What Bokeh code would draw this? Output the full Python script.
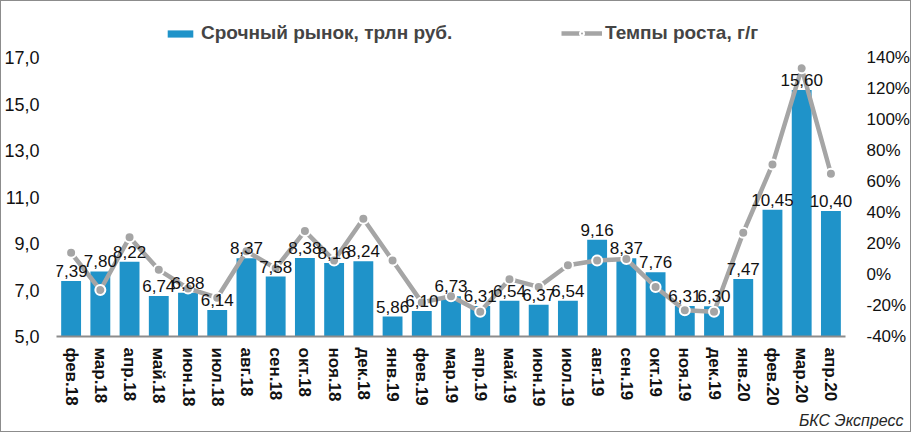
from bokeh.plotting import figure
from bokeh.models import (Range1d, LinearAxis, FixedTicker, Legend,
                          LegendItem, Title, ColumnDataSource)
from bokeh.core.properties import value
from bokeh.embed import file_html
from bokeh.resources import INLINE

categories = ["фев.18", "мар.18", "апр.18", "май.18", "июн.18", "июл.18", "авг.18",
              "сен.18", "окт.18", "ноя.18", "дек.18", "янв.19", "фев.19", "мар.19",
              "апр.19", "май.19", "июн.19", "июл.19", "авг.19", "сен.19", "окт.19",
              "ноя.19", "дек.19", "янв.20", "фев.20", "мар.20", "апр.20"]
volume = [7.39, 7.80, 8.22, 6.74, 6.88, 6.14, 8.37, 7.58, 8.38, 8.16, 8.24, 5.86, 6.10,
          6.73, 6.31, 6.54, 6.37, 6.54, 9.16, 8.37, 7.76, 6.31, 6.30, 7.47, 10.45, 15.60,
          10.40]
growth = [14, -10, 24, 3, -9, -15, 15, 4, 28, 9, 36, 9, -18, -14, -24, -3, -8, 6, 9, 10,
          -8, -23, -24, 27, 71, 133, 65]
left_ticks = [5, 7, 9, 11, 13, 15, 17]
left_tick_labels = ["5,0", "7,0", "9,0", "11,0", "13,0", "15,0", "17,0"]
right_ticks = [-40, -20, 0, 20, 40, 60, 80, 100, 120, 140]
right_tick_labels = ["-40%", "-20%", "0%", "20%", "40%", "60%", "80%", "100%", "120%", "140%"]
bar_label = "Срочный рынок, трлн руб."
line_label = "Темпы роста, г/г"
source_note = "БКС Экспресс"

FONT = "Liberation Sans"
BAR_COLOR = "#1F93C9"
LINE_COLOR = "#A5A5A5"

# ---- layout constants (pixels) ----
W, H = 911, 432
AXIS_PX = 279            # height of the 5..17 / -40..140 span
EXTRA = 40               # frame extends above the axis span (legend row)
SLOT_PX = 29.3           # width of one category slot
EXTRA_R = 12             # frame extends right of the last slot (room for labels)
left_lo, left_hi = 5, 17
right_lo, right_hi = -40, 140
left_end = left_lo + (left_hi - left_lo) * (AXIS_PX + EXTRA) / AXIS_PX
right_end = right_lo + (right_hi - right_lo) * (AXIS_PX + EXTRA) / AXIS_PX
n = len(categories)
x_lo, x_hi = -0.5, n - 0.5
B_LEFT, B_RIGHT, B_TOP, B_BOTTOM = 53, 55, 56 - EXTRA, 97

xs = list(range(n))
src = ColumnDataSource(dict(
    x=xs,
    vol=volume,
    gr=growth,
    lbl=[f"{v:.2f}".replace(".", ",") for v in volume],
))

p = figure(x_range=Range1d(x_lo, x_hi + EXTRA_R / SLOT_PX),
           y_range=Range1d(left_lo, left_end), width=W, height=H,
           output_backend="svg", toolbar_location=None,
           min_border_left=B_LEFT, min_border_right=B_RIGHT, min_border_top=B_TOP,
           min_border_bottom=B_BOTTOM)
p.extra_y_ranges = {"pct": Range1d(right_lo, right_end)}
p.outline_line_color = None
p.xgrid.visible = False
p.ygrid.visible = False
p.styles = {"border": "1px solid #8C8C8C"}

ax = p.yaxis[0]
ax.ticker = FixedTicker(ticks=left_ticks)
ax.major_label_overrides = dict(zip(left_ticks, left_tick_labels))
ax.axis_line_color = None
ax.major_tick_line_color = None
ax.minor_tick_line_color = None
ax.major_tick_out = 0
ax.major_tick_in = 0
ax.minor_tick_out = 0
ax.major_label_text_font = FONT
ax.major_label_text_font_size = "18px"
ax.major_label_text_color = "#111111"
ax.major_label_standoff = 17

ra = LinearAxis(y_range_name="pct", ticker=FixedTicker(ticks=right_ticks))
ra.major_label_overrides = dict(zip(right_ticks, right_tick_labels))
ra.axis_line_color = None
ra.major_tick_line_color = None
ra.minor_tick_line_color = None
ra.major_tick_out = 0
ra.major_tick_in = 0
ra.minor_tick_out = 0
ra.major_label_text_font = FONT
ra.major_label_text_font_size = "17px"
ra.major_label_text_color = "#111111"
ra.major_label_standoff = 9
p.add_layout(ra, "right")

xa = p.xaxis[0]
xa.ticker = FixedTicker(ticks=xs)
xa.major_label_overrides = dict(zip(xs, categories))
xa.bounds = (x_lo, x_hi)
xa.major_label_orientation = "vertical"
xa.major_label_text_font = FONT
xa.major_label_text_font_style = "bold"
xa.major_label_text_font_size = "17px"
xa.major_label_text_color = "#111111"
xa.major_label_standoff = 11
xa.axis_line_color = "#8C8C8C"
xa.axis_line_width = 2
xa.major_tick_line_color = None
xa.minor_tick_line_color = None
xa.major_tick_out = 0
xa.major_tick_in = 0
xa.minor_tick_out = 0

bars = p.vbar(x="x", top="vol", bottom=0, width=0.68, source=src,
              fill_color=BAR_COLOR, line_color=None)
line_r = p.line(x="x", y="gr", source=src, y_range_name="pct",
                line_color=LINE_COLOR, line_width=4.5, line_join="round")
pts = p.scatter(x="x", y="gr", source=src, y_range_name="pct", size=10,
                fill_color=LINE_COLOR, line_color="white", line_width=2)
p.text(x="x", y="vol", text="lbl", source=src, text_align="center",
       text_baseline="alphabetic", y_offset=-10, text_font=value(FONT),
       text_font_size="17px", text_color="#111111")

FRAME_H = AXIS_PX + EXTRA
LEG_TOP, LEG_H = 21, 22
leg_y = FRAME_H - (LEG_TOP - B_TOP) - LEG_H
leg_common = dict(orientation="horizontal", padding=0, margin=0,
                  border_line_color=None, background_fill_alpha=0,
                  label_text_font=FONT, label_text_font_style="bold",
                  label_text_font_size="19px", label_height=LEG_H)
leg1 = Legend(items=[LegendItem(label=bar_label, renderers=[bars])],
              location=(108, leg_y), glyph_width=32, glyph_height=9,
              label_standoff=5, **leg_common)
leg2 = Legend(items=[LegendItem(label=line_label, renderers=[line_r, pts])],
              location=(505, leg_y), glyph_width=41, glyph_height=10,
              label_standoff=3, **leg_common)
p.add_layout(leg1, "center")
p.add_layout(leg2, "center")

note = Title(text=source_note, align="right", offset=-46, standoff=0,
             text_font=FONT, text_font_style="italic", text_font_size="16px",
             text_color="#262626")
p.add_layout(note, "below")

open("out.html", "w").write(file_html(p, INLINE))
